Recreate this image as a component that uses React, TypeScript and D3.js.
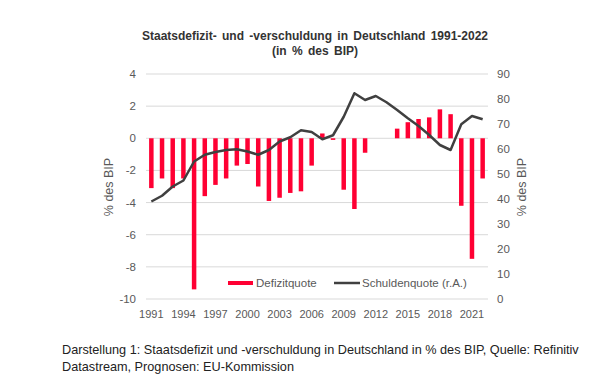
import React from "react";
import * as d3 from "d3";

const years = d3.range(1991, 2023);
const deficit = [
  -3.1, -2.5, -3.1, -2.5, -9.4, -3.6, -2.9, -2.5, -1.7, -1.6,
  -3.0, -3.9, -3.7, -3.4, -3.3, -1.7, 0.3, -0.1, -3.2, -4.4,
  -0.9, 0.0, 0.0, 0.6, 1.0, 1.2, 1.3, 1.8, 1.5, -4.2,
  -7.5, -2.5,
];
const debt = [
  39.0, 41.3, 45.0, 47.4, 55.0, 57.7, 58.8, 59.6, 59.9, 59.0,
  57.7, 59.6, 63.0, 64.7, 67.5, 66.8, 63.9, 65.5, 72.9, 82.3,
  79.6, 81.2, 78.7, 75.6, 72.3, 69.2, 65.6, 61.6, 59.6, 69.9,
  73.2, 71.9,
];
const leftTicks = [4, 2, 0, -2, -4, -6, -8, -10];
const rightTicks = [90, 80, 70, 60, 50, 40, 30, 20, 10, 0];
const xTickYears = years.filter((y) => (y - 1991) % 3 === 0);

const W = 604;
const H = 386;
const plot = { left: 146, right: 488, top: 74, bottom: 299 };
const font = "'Liberation Sans', Arial, sans-serif";
const grey = "#595959";

export default function App() {
  const x = d3
    .scaleBand<number>()
    .domain(years)
    .range([plot.left, plot.right])
    .paddingInner(0.58)
    .paddingOuter(0.29);
  const yL = d3.scaleLinear().domain([-10, 4]).range([plot.bottom, plot.top]);
  const yR = d3.scaleLinear().domain([0, 90]).range([plot.bottom, plot.top]);
  const cx = (yr: number) => (x(yr) as number) + x.bandwidth() / 2;

  // debt ratio line on the right axis
  const line = d3
    .line<number>()
    .x((_, i) => cx(years[i]))
    .y((d) => yR(d));

  return (
    <svg
      width={W}
      height={H}
      style={{ position: "absolute", left: 0, top: 0, background: "#fff" }}
      fontFamily={font}
    >
      <text x={315} y={40} textAnchor="middle" fontSize={12} fontWeight="bold" fill="#333" wordSpacing={2}>
        Staatsdefizit- und -verschuldung in Deutschland 1991-2022
      </text>
      <text x={315} y={55} textAnchor="middle" fontSize={12} fontWeight="bold" fill="#333" wordSpacing={2}>
        (in % des BIP)
      </text>

      {leftTicks.map((t) => (
        <g key={t}>
          <line x1={plot.left} x2={plot.right} y1={yL(t)} y2={yL(t)} stroke="#d9d9d9" strokeWidth={1} />
          <text x={136} y={yL(t) + 4} textAnchor="end" fontSize={11.5} fill={grey}>
            {t}
          </text>
        </g>
      ))}
      {rightTicks.map((t) => (
        <text key={t} x={497} y={yR(t) + 4} textAnchor="start" fontSize={11.5} fill={grey}>
          {t}
        </text>
      ))}

      <text transform={`translate(113,187) rotate(-90)`} textAnchor="middle" fontSize={12.5} fill={grey}>
        % des BIP
      </text>
      <text transform={`translate(526,187) rotate(-90)`} textAnchor="middle" fontSize={12.5} fill={grey}>
        % des BIP
      </text>

      {years.map((yr, i) => {
        const v = deficit[i];
        const y0 = yL(0);
        const y1 = yL(v);
        return (
          <rect
            key={yr}
            x={x(yr)}
            y={Math.min(y0, y1)}
            width={x.bandwidth()}
            height={Math.abs(y1 - y0)}
            fill="#ff0033"
          />
        );
      })}

      <path d={line(debt) || ""} fill="none" stroke="#404040" strokeWidth={2.5} strokeLinejoin="round" />

      {xTickYears.map((yr) => (
        <text key={yr} x={cx(yr)} y={318} textAnchor="middle" fontSize={11} fill={grey}>
          {yr}
        </text>
      ))}

      <rect x={228} y={281} width={25} height={4} fill="#ff0033" />
      <text x={256} y={287} fontSize={11.5} fill={grey}>
        Defizitquote
      </text>
      <line x1={334} x2={360} y1={283} y2={283} stroke="#404040" strokeWidth={2.5} />
      <text x={362} y={287} fontSize={11.5} fill={grey}>
        Schuldenquote (r.A.)
      </text>

      <text x={62} y={354} fontSize={12.7} fill="#222">
        Darstellung 1: Staatsdefizit und -verschuldung in Deutschland in % des BIP, Quelle: Refinitiv
      </text>
      <text x={62} y={371} fontSize={12.7} fill="#222">
        Datastream, Prognosen: EU-Kommission
      </text>
    </svg>
  );
}
